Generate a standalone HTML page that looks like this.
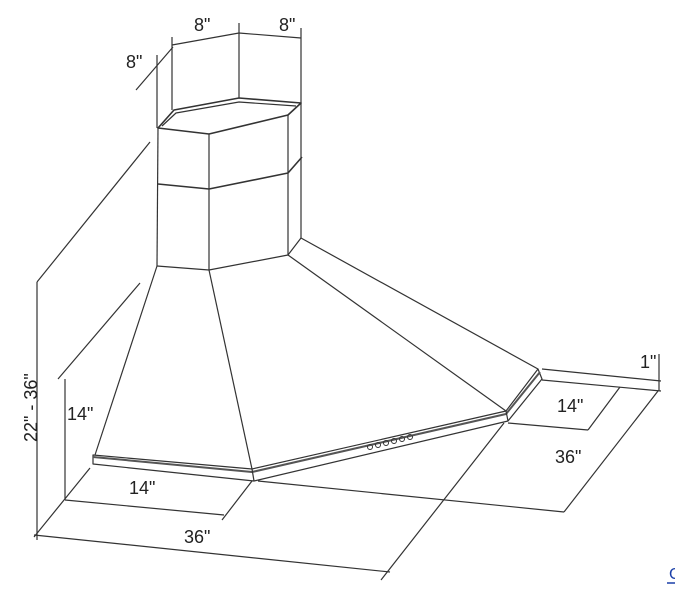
<!DOCTYPE html>
<html><head><style>
html,body{margin:0;padding:0;background:#fff;}
svg{display:block;}
text{font-family:"Liberation Sans",sans-serif;font-size:18px;fill:#222;}
</style></head><body>
<svg width="675" height="594" viewBox="0 0 675 594" xmlns="http://www.w3.org/2000/svg">
<g fill="none" stroke="#333" stroke-width="1.2" stroke-linejoin="round">
<polygon points="158,128 174,110 239,98 301,103 288,115 209,134" stroke-width="1.6"/>
<polyline points="162,126 176,113 239,102 296,106"/>
<line x1="158" y1="128" x2="157" y2="266"/>
<line x1="209" y1="134" x2="209" y2="270"/>
<line x1="288" y1="115" x2="288" y2="255"/>
<line x1="301" y1="103" x2="301" y2="238"/>
<polyline points="158,184 209,189 288,173 302,157" stroke-width="1.6"/>
<polyline points="157,266 209,270 288,255 301,238"/>
<line x1="157" y1="266" x2="95" y2="455"/>
<line x1="209" y1="270" x2="252" y2="469"/>
<line x1="288" y1="255" x2="506" y2="411"/>
<line x1="301" y1="238" x2="538" y2="369"/>
<polygon points="93,455 252,469 506,411 538,369 542,379 508,421 254,481 93,464"/>
<polyline points="93,457 252,472 506,414 540,372" stroke-width="2" stroke="#555"/>
<line x1="252" y1="469" x2="254" y2="481"/>
<line x1="506" y1="411" x2="508" y2="421"/>
<g stroke-width="1">
<circle cx="370" cy="447" r="2.5"/><circle cx="378" cy="445" r="2.5"/><circle cx="386" cy="443" r="2.5"/>
<circle cx="394" cy="441" r="2.5"/><circle cx="402" cy="439" r="2.5"/><circle cx="410" cy="437" r="2.5"/>
</g>
<line x1="157" y1="128" x2="157" y2="55"/>
<line x1="172" y1="110" x2="172" y2="37"/>
<line x1="239" y1="98" x2="239" y2="23"/>
<line x1="301" y1="103" x2="301" y2="28"/>
<polyline points="172,45 239,33 301,38"/>
<line x1="136" y1="90" x2="173" y2="47"/>
<line x1="37" y1="282" x2="150" y2="142"/>
<line x1="37" y1="282" x2="37" y2="540"/>
<line x1="34" y1="535" x2="390" y2="572"/>
<line x1="90" y1="468" x2="34" y2="537"/>
<line x1="58" y1="379" x2="140" y2="283"/>
<line x1="65" y1="379" x2="65" y2="500"/>
<line x1="65" y1="500" x2="224" y2="515"/>
<line x1="252" y1="481" x2="222" y2="520"/>
<line x1="258" y1="481" x2="564" y2="512"/>
<line x1="564" y1="512" x2="658" y2="391"/>
<line x1="542" y1="369" x2="661" y2="381"/>
<line x1="542" y1="380" x2="661" y2="391"/>
<line x1="659" y1="354" x2="659" y2="391"/>
<line x1="508" y1="423" x2="588" y2="430"/>
<line x1="588" y1="430" x2="620" y2="387"/>
<line x1="504" y1="423" x2="381" y2="580"/>
</g>
<text x="194" y="31">8"</text>
<text x="279" y="31">8"</text>
<text x="126" y="68">8"</text>
<text x="0" y="0" transform="translate(37,442) rotate(-90)">22" - 36"</text>
<text x="67" y="420">14"</text>
<text x="129" y="494">14"</text>
<text x="184" y="543">36"</text>
<text x="640" y="368">1"</text>
<text x="557" y="412">14"</text>
<text x="555" y="463">36"</text>
<text x="669" y="579" style="fill:#1a3fa8;font-size:16px">C</text>
<line x1="667" y1="583" x2="675" y2="583" stroke="#1a3fa8" stroke-width="1.5"/>
</svg>
</body></html>
